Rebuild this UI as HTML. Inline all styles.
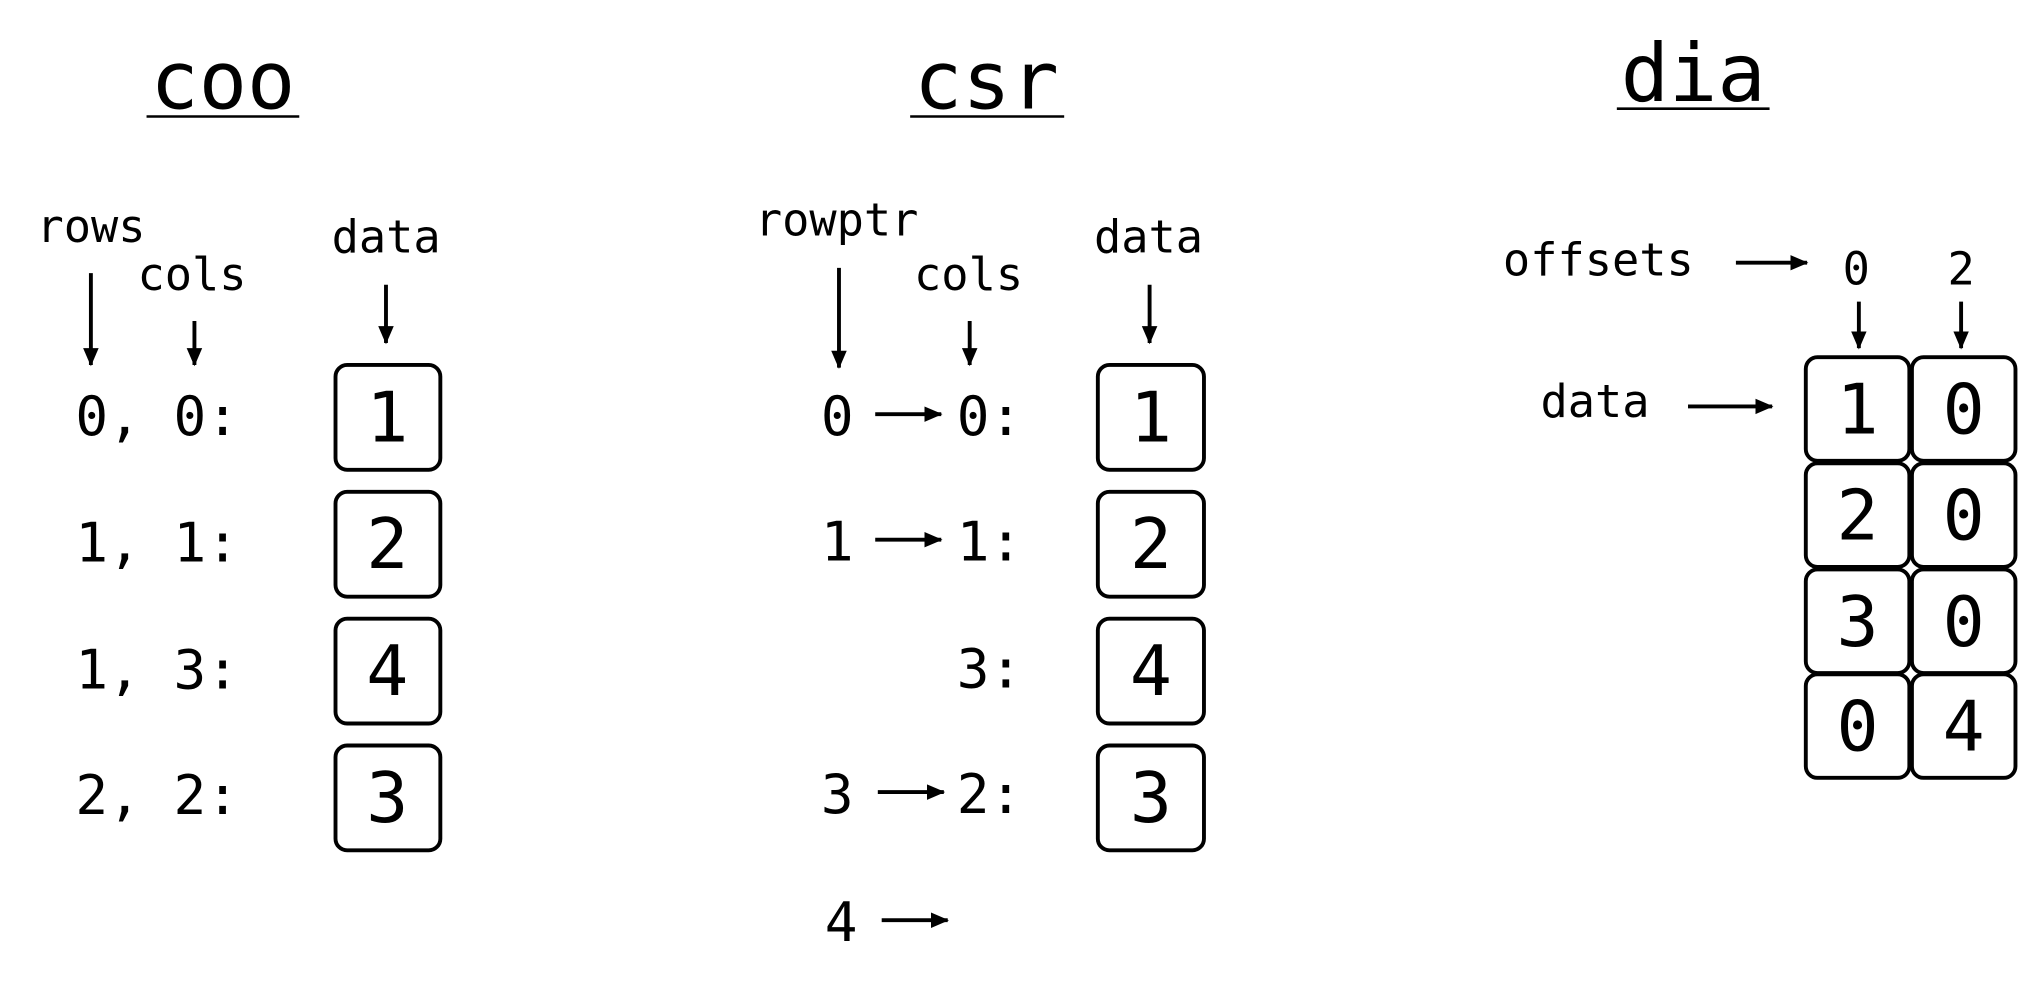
<!DOCTYPE html>
<html><head><meta charset="utf-8"><style>html,body{margin:0;padding:0;background:#fff;}svg{display:block}</style></head>
<body>
<svg width="2030" height="994" viewBox="0 0 1568 768" xmlns="http://www.w3.org/2000/svg" font-family="'DejaVu Sans Mono','Liberation Mono',monospace" fill="#000">
<defs><marker id="b" markerWidth="14" markerHeight="14" refX="13" refY="7" orient="auto" markerUnits="userSpaceOnUse"><path d="M0,1 L14,7 L0,13 z" fill="#000"/></marker></defs>
<g font-size="62" text-anchor="middle">
<text x="172" y="84">coo</text><text x="762" y="84">csr</text><text x="1308" y="78">dia</text></g>
<g stroke="#000" stroke-width="2"><line x1="113" y1="90" x2="231" y2="90"/><line x1="703" y1="90" x2="822" y2="90"/><line x1="1249" y1="84" x2="1367" y2="84"/></g>
<g font-size="35">
<text x="28" y="187">rows</text><text x="106" y="224">cols</text><text x="256" y="195">data</text>
<text x="583" y="182">rowptr</text><text x="706" y="224">cols</text><text x="845" y="195">data</text>
<text x="1161" y="213">offsets</text><text x="1190" y="322">data</text>
<text x="1434" y="220" text-anchor="middle">0</text><text x="1515" y="220" text-anchor="middle">2</text>
</g>
<g stroke="#000" stroke-width="3" marker-end="url(#b)">
<line x1="70" y1="211" x2="70" y2="282"/><line x1="150" y1="248" x2="150" y2="282"/><line x1="298" y1="220" x2="298" y2="265"/>
<line x1="648" y1="207" x2="648" y2="284"/><line x1="749" y1="248" x2="749" y2="282"/><line x1="888" y1="220" x2="888" y2="265"/>
<line x1="1341" y1="203" x2="1396" y2="203"/><line x1="1436" y1="233" x2="1436" y2="269"/><line x1="1515" y1="233" x2="1515" y2="269"/>
<line x1="1304" y1="314" x2="1369" y2="314"/>
<line x1="676" y1="320" x2="727" y2="320"/><line x1="676" y1="417" x2="727" y2="417"/><line x1="678" y1="612" x2="729" y2="612"/><line x1="681" y1="711" x2="732" y2="711"/>
</g>
<g font-size="42">
<text x="58" y="336">0, 0:</text><text x="58" y="434">1, 1:</text><text x="58" y="532">1, 3:</text><text x="58" y="629">2, 2:</text>
<text x="634" y="336">0</text><text x="739" y="336">0:</text>
<text x="634" y="433">1</text><text x="739" y="433">1:</text>
<text x="739" y="531">3:</text>
<text x="634" y="628">3</text><text x="739" y="628">2:</text>
<text x="637" y="727">4</text>
</g>
<g fill="none" stroke="#000" stroke-width="3">
<rect x="259" y="282" width="81" height="81" rx="9"/><rect x="259" y="380" width="81" height="81" rx="9"/><rect x="259" y="478" width="81" height="81" rx="9"/><rect x="259" y="576" width="81" height="81" rx="9"/>
<rect x="848" y="282" width="82" height="81" rx="9"/><rect x="848" y="380" width="82" height="81" rx="9"/><rect x="848" y="478" width="82" height="81" rx="9"/><rect x="848" y="576" width="82" height="81" rx="9"/>
<rect x="1395" y="276" width="80" height="80" rx="9"/><rect x="1477" y="276" width="80" height="80" rx="9"/>
<rect x="1395" y="358" width="80" height="80" rx="9"/><rect x="1477" y="358" width="80" height="80" rx="9"/>
<rect x="1395" y="440" width="80" height="80" rx="9"/><rect x="1477" y="440" width="80" height="80" rx="9"/>
<rect x="1395" y="521" width="80" height="80" rx="9"/><rect x="1477" y="521" width="80" height="80" rx="9"/>
</g>
<g font-size="54" text-anchor="middle">
<text x="299" y="341">1</text><text x="299" y="439">2</text><text x="299" y="537">4</text><text x="299" y="635">3</text>
<text x="889" y="341">1</text><text x="889" y="439">2</text><text x="889" y="537">4</text><text x="889" y="635">3</text>
<text x="1435" y="335">1</text><text x="1517" y="335">0</text>
<text x="1435" y="417">2</text><text x="1517" y="417">0</text>
<text x="1435" y="499">3</text><text x="1517" y="499">0</text>
<text x="1435" y="580">0</text><text x="1517" y="580">4</text>
</g>
</svg>
</body></html>
